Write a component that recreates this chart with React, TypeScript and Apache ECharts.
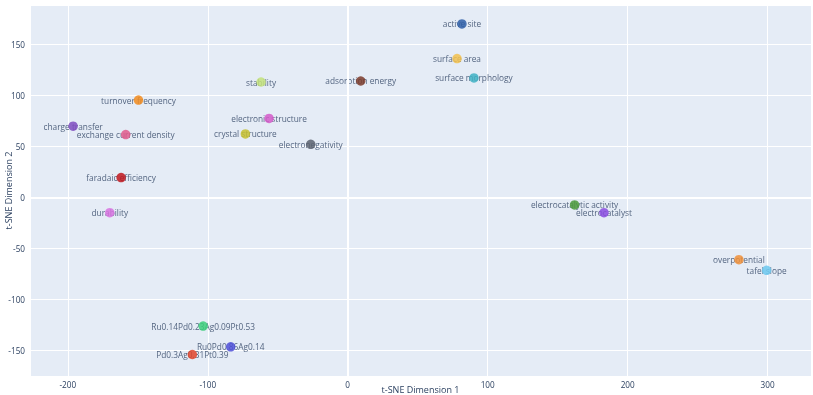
import React, { useEffect, useRef } from "react";
import * as echarts from "echarts";

const terms = [
  "active site", "surface area", "surface morphology", "adsorption energy", "stability",
  "electronic structure", "crystal structure", "electronegativity", "turnover frequency",
  "charge transfer", "exchange current density", "faradaic efficiency", "durability",
  "Ru0.14Pd0.23Ag0.09Pt0.53", "Ru0Pd0.86Ag0.14", "Pd0.3Ag0.31Pt0.39",
  "electrocatalytic activity", "electrocatalyst", "overpotential", "tafel slope",
];
const dim1 = [
  81.6, 78.1, 90.2, 9.3, -61.9,
  -56.2, -73.1, -26.4, -149.5,
  -196.2, -158.6, -161.9, -170,
  -103.3, -83.6, -111,
  162.1, 183.1, 279.5, 299.3,
];
const dim2 = [
  170.2, 136.2, 117.2, 114.2, 113.2,
  77.4, 62.2, 52.0, 95.5,
  69.8, 61.6, 19.4, -15.1,
  -126.4, -146.7, -154.3,
  -7.5, -15.1, -61.2, -71.7,
];
const colors = [
  "#2f5fa8", "#f2c14e", "#3fb1c4", "#7b3b2a", "#c3e27a",
  "#d35bc9", "#c5c02f", "#5c6370", "#f28c1e",
  "#7f4cc0", "#e05b8c", "#c0161c", "#d873e0",
  "#3ccf7a", "#4f50d8", "#e0442a",
  "#4a9a3a", "#8a4be0", "#f0903a", "#6cc8ef",
];

const FONT = '"Open Sans", verdana, arial, sans-serif';
const TXT = "#2a3f5f";

export default function App() {
  const ref = useRef<HTMLDivElement>(null);
  useEffect(() => {
    if (!ref.current) return;
    const chart = echarts.init(ref.current, null, { renderer: "svg" });
    const pts = terms.map((t, i) => ({ value: [dim1[i], dim2[i]], name: t }));
    chart.setOption({
      animation: false,
      textStyle: { fontFamily: FONT },
      grid: { left: 30, right: 2, top: 5, bottom: 19, show: true, backgroundColor: "#E5ECF6", borderWidth: 0 },
      xAxis: {
        type: "value", min: -227, max: 331, splitNumber: 5,
        axisLine: { show: false }, axisTick: { show: false },
        axisLabel: { color: TXT, fontSize: 8.2, fontFamily: FONT, margin: 4, showMinLabel: false, showMaxLabel: false },
        splitLine: { lineStyle: { color: "#ffffff", width: 1 } },
      },
      yAxis: {
        type: "value", min: -175.4, max: 188.8, splitNumber: 7,
        axisLine: { show: false }, axisTick: { show: false },
        axisLabel: { color: TXT, fontSize: 8.2, fontFamily: FONT, margin: 5, showMinLabel: false, showMaxLabel: false },
        splitLine: { lineStyle: { color: "#ffffff", width: 1 } },
      },
      graphic: [
        { type: "text", x: 420.5, y: 389.5, style: { text: "t-SNE Dimension 1", fill: TXT, font: `9px ${FONT}`, textAlign: "center", textVerticalAlign: "middle" } },
        { type: "text", x: 8, y: 190.5, rotation: Math.PI / 2, style: { text: "t-SNE Dimension 2", fill: TXT, font: `9px ${FONT}`, textAlign: "center", textVerticalAlign: "middle" } },
      ],
      series: [
        {
          type: "scatter", z: 1, silent: true,
          data: pts,
          symbolSize: 1,
          itemStyle: { color: "rgba(0,0,0,0)" },
          label: { show: true, position: "inside", formatter: "{b}", color: TXT, fontSize: 8.3, fontFamily: FONT },
          labelLayout: { hideOverlap: false },
          markLine: {
            silent: true, symbol: "none", label: { show: false },
            lineStyle: { color: "#ffffff", width: 2, type: "solid" },
            data: [{ xAxis: 0 }, { yAxis: 0 }],
          },
        },
        {
          type: "scatter", z: 3, silent: true,
          data: pts.map((p, i) => ({ ...p, itemStyle: { color: colors[i], opacity: 0.85 } })),
          symbolSize: 9.5,
        },
      ],
    });
    return () => chart.dispose();
  }, []);
  return <div ref={ref} style={{ position: "fixed", left: 0, top: 0, width: 813, height: 395 }} />;
}
